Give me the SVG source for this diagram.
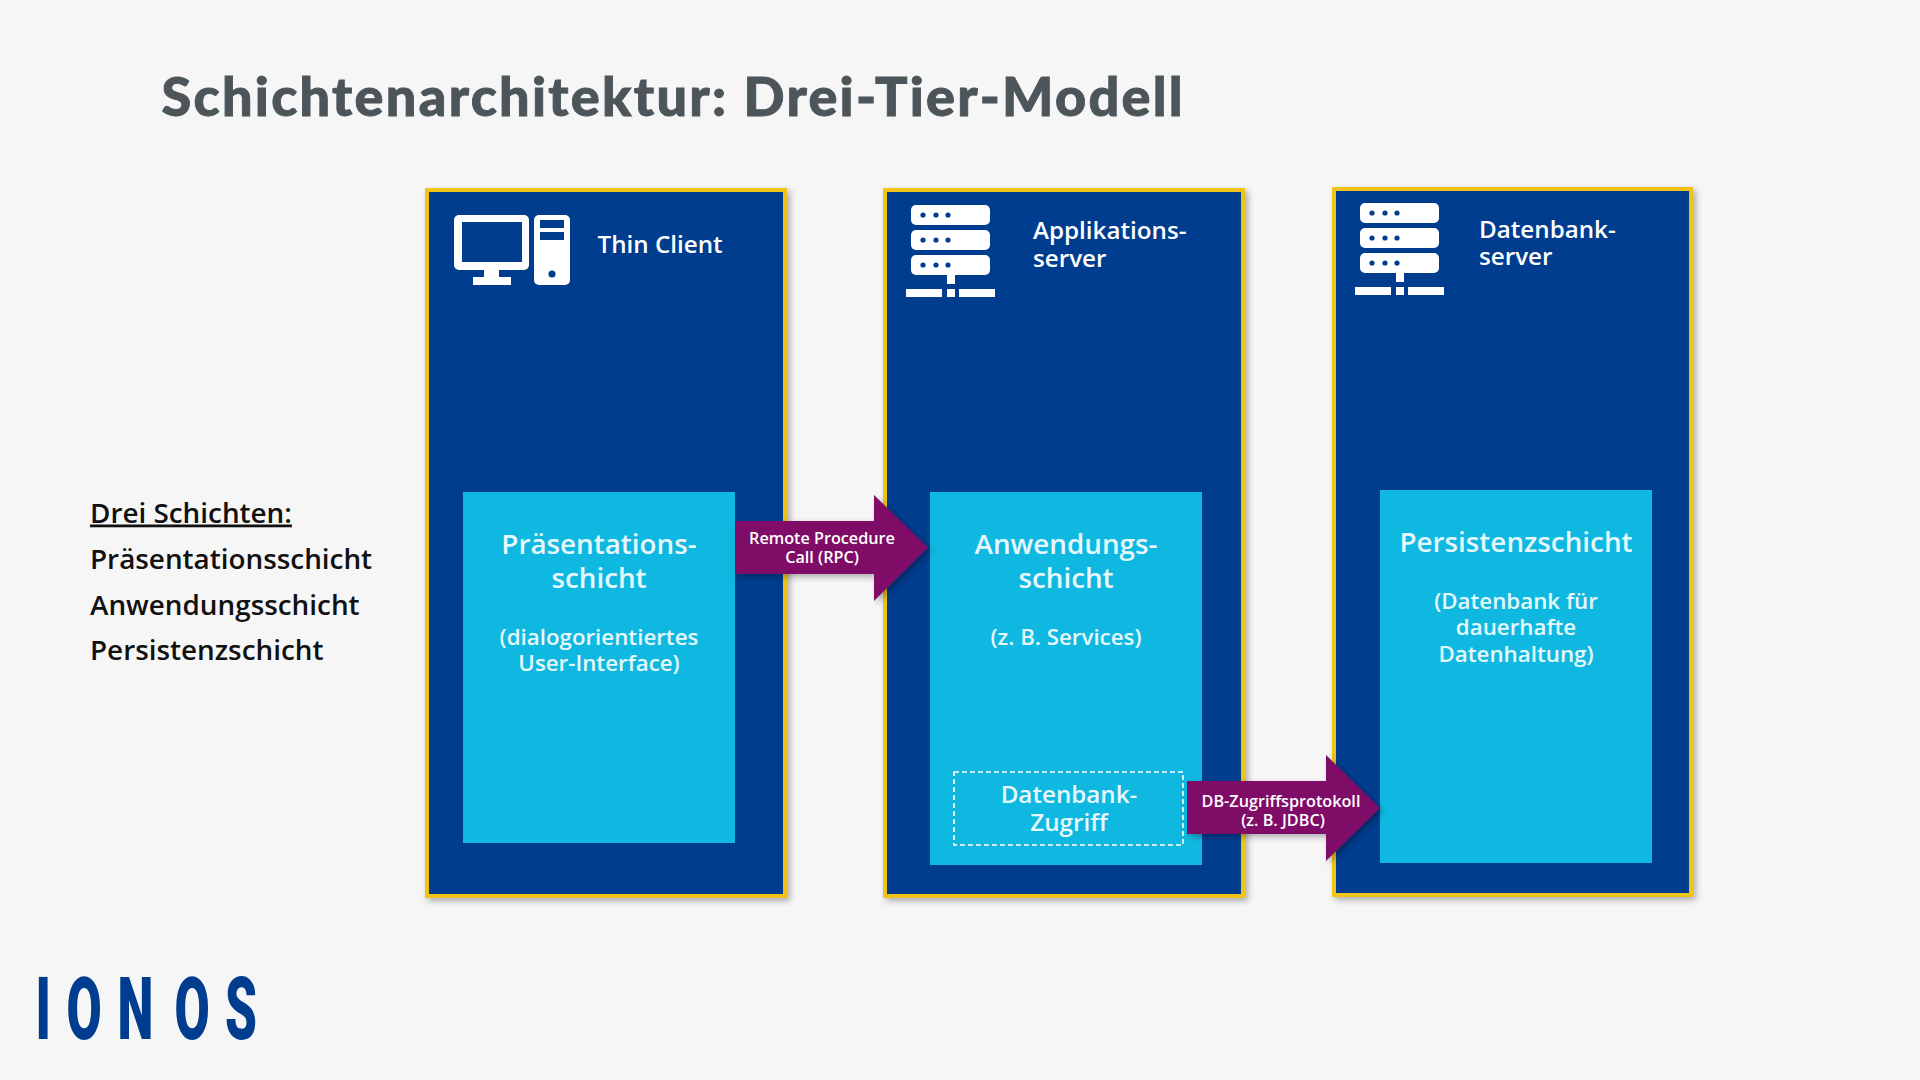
<svg xmlns="http://www.w3.org/2000/svg" width="1920" height="1080" viewBox="0 0 1920 1080">
<defs>
<style>
text{font-family:"Open Sans","Noto Sans",sans-serif;text-anchor:middle;fill:#fff}
.t{font-size:24.200px;font-weight:600;text-anchor:start}
.b{font-size:27.800px;font-weight:600;fill:#e6f8fd}
.d{font-size:24.200px;font-weight:600;fill:#e6f8fd}
.s{font-size:22.300px;font-weight:600;fill:#e6f8fd}
.a{font-size:16.200px;font-weight:600}
.l{font-size:27.850px;font-weight:600;fill:#111;text-anchor:start}
.panel{fill:#003d8f;stroke:#f1c316;stroke-width:4;filter:url(#sh)}
.inner{fill:#0fb8e0}
.arrow{fill:#7f0d68;filter:url(#sh)}
.logo{font-family:"Roboto",sans-serif;font-weight:900;font-size:88px;fill:#003d8f;text-anchor:start}
.title{font-family:"Lato",sans-serif;font-weight:900;font-size:54px;fill:#4c5559;stroke:#4c5559;stroke-width:.9;text-anchor:start}
</style>
<filter id="sh" x="-10%" y="-10%" width="125%" height="125%"><feDropShadow dx="3" dy="3" stdDeviation="3" flood-color="#000" flood-opacity=".3"/></filter>
<g id="srv">
<rect x="0" y="0" width="79" height="20" rx="5" fill="#fff"/>
<rect x="0" y="25" width="79" height="20" rx="5" fill="#fff"/>
<rect x="0" y="50" width="79" height="20" rx="5" fill="#fff"/>
<g fill="#003d8f"><circle cx="12" cy="10" r="2.600"/><circle cx="25" cy="10" r="2.600"/><circle cx="37" cy="10" r="2.600"/><circle cx="12" cy="35" r="2.600"/><circle cx="25" cy="35" r="2.600"/><circle cx="37" cy="35" r="2.600"/><circle cx="12" cy="60" r="2.600"/><circle cx="25" cy="60" r="2.600"/><circle cx="37" cy="60" r="2.600"/></g>
<rect x="36" y="69" width="8" height="10" fill="#fff"/>
<rect x="-5" y="84" width="36" height="8" fill="#fff"/><rect x="36" y="84" width="8" height="8" fill="#fff"/><rect x="48" y="84" width="36" height="8" fill="#fff"/>
</g>
</defs>
<rect width="1920" height="1080" fill="#f6f6f7"/>
<text id="title" class="title" x="161.500" y="116" textLength="1021" lengthAdjust="spacing">Schichtenarchitektur: Drei-Tier-Modell</text>
<g id="legend">
<text class="l" x="90" y="522.500" text-decoration="underline">Drei Schichten:</text>
<text class="l" x="90" y="568.500">Präsentationsschicht</text>
<text class="l" x="90" y="614.500">Anwendungsschicht</text>
<text class="l" x="90" y="660">Persistenzschicht</text>
</g>
<g id="tier-client">
<rect class="panel" x="427" y="190" width="358" height="706"/>
<rect x="454" y="215" width="75" height="55" rx="5" fill="#fff"/><rect x="462" y="222" width="60" height="40" fill="#003d8f"/>
<rect x="484" y="270" width="15" height="8" fill="#fff"/><rect x="473" y="277" width="38" height="8" fill="#fff"/>
<rect x="534" y="215" width="36" height="70" rx="5" fill="#fff"/><rect x="540" y="220" width="24" height="8" fill="#003d8f"/><rect x="540" y="232" width="24" height="8" fill="#003d8f"/><circle cx="552" cy="274" r="3.600" fill="#003d8f"/>
<text class="t" x="597.500" y="253">Thin Client</text>
<rect class="inner" x="463" y="492" width="272" height="351"/>
<text class="b" x="599" y="554">Präsentations-<tspan x="599" dy="34">schicht</tspan></text>
<text class="s" x="599" y="645">(dialogorientiertes<tspan x="599" dy="26">User-Interface)</tspan></text>
</g>
<g id="tier-app">
<rect class="panel" x="885" y="190" width="358" height="706"/>
<use href="#srv" x="911" y="205"/>
<text class="t" x="1033" y="239">Applikations-<tspan x="1033" dy="28">server</tspan></text>
<rect class="inner" x="930" y="492" width="272" height="373"/>
<text class="b" x="1066" y="554">Anwendungs-<tspan x="1066" dy="34">schicht</tspan></text>
<text class="s" x="1066" y="645">(z. B. Services)</text>
</g>
<g id="db-access">
<rect x="954" y="772" width="229" height="73" fill="none" stroke="#fff" stroke-width="1.600" stroke-dasharray="5 3"/>
<text class="d" x="1069" y="803">Datenbank-<tspan x="1069" dy="28">Zugriff</tspan></text>
</g>
<g id="tier-db">
<rect class="panel" x="1334" y="189" width="357" height="706"/>
<use href="#srv" x="1360" y="203"/>
<text class="t" x="1479" y="238">Datenbank-<tspan x="1479" dy="27">server</tspan></text>
<rect class="inner" x="1380" y="490" width="272" height="373"/>
<text class="b" x="1516" y="551.500">Persistenzschicht</text>
<text class="s" x="1516" y="609">(Datenbank für<tspan x="1516" dy="26">dauerhafte</tspan><tspan x="1516" dy="27">Datenhaltung)</tspan></text>
</g>
<g id="connectors">
<path class="arrow" d="M735 521H874V495L928 547.500 874 601V574H735Z"/>
<path class="arrow" d="M1187 781H1326V755L1380 808 1326 861V834H1187Z"/>
</g>
<g id="connector-labels">
<text class="a" x="822" y="543.500">Remote Procedure<tspan x="822" dy="19">Call (RPC)</tspan></text>
<text class="a" x="1281" y="807">DB-Zugriffsprotokoll<tspan x="1283" dy="19">(z. B. JDBC)</tspan></text>
</g>
<g id="logo">
<text class="logo" transform="scale(.58 1)" x="61 114.600 202.600 301 388" y="1039">IONOS</text>
</g>
</svg>
